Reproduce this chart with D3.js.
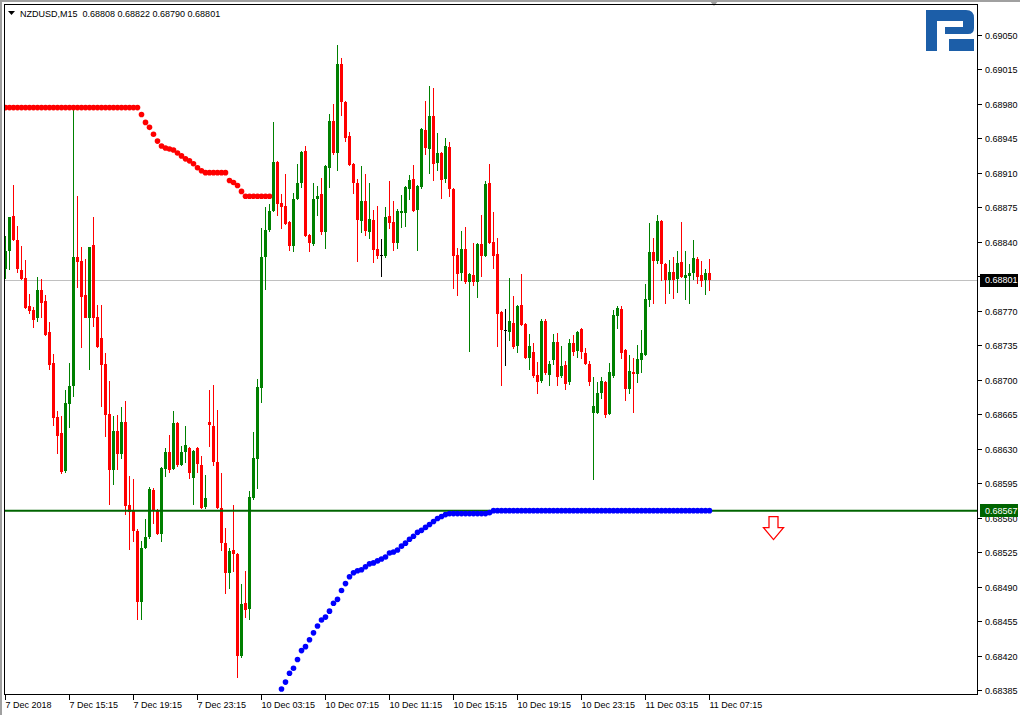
<!DOCTYPE html>
<html>
<head>
<meta charset="utf-8">
<script src="https://cdn.jsdelivr.net/npm/d3@7/dist/d3.min.js"></script>
<style>
  html, body { margin: 0; padding: 0; background: #ffffff; }
  svg { display: block; }
  text { font-family: "Liberation Sans", Arial, sans-serif; }
</style>
</head>
<body>
<svg id="chart" width="1020" height="715"></svg>
<script>
// ---------------- DATA (NZDUSD, M15) ----------------
const symbolTitle = "NZDUSD,M15";
const lastQuote = ["0.68808", "0.68822", "0.68790", "0.68801"];

const open = [
0.68812,0.68830,0.68866,0.68842,0.68811,0.68803,0.68775,0.68771,0.68762,0.68791,
0.68780,0.68748,0.68717,0.68662,0.68646,0.68607,0.68675,0.68693,0.68824,0.68820,
0.68786,0.68763,0.68837,0.68764,0.68742,0.68716,0.68665,0.68608,0.68648,0.68625,
0.68657,0.68573,0.68567,0.68546,0.68474,0.68529,0.68540,0.68588,0.68568,0.68543,
0.68609,0.68627,0.68609,0.68656,0.68613,0.68627,0.68631,0.68600,0.68631,0.68613,
0.68571,0.68657,0.68653,0.68616,0.68570,0.68534,0.68504,0.68527,0.68523,0.68420,
0.68473,0.68467,0.68580,0.68619,0.68691,0.68824,0.68852,0.68871,0.68921,0.68879,
0.68876,0.68860,0.68836,0.68883,0.68900,0.68932,0.68847,0.68838,0.68883,0.68888,
0.68850,0.68915,0.68962,0.68930,0.69020,0.68982,0.68947,0.68919,0.68900,0.68861,
0.68881,0.68850,0.68862,0.68833,0.68826,0.68825,0.68866,0.68860,0.68839,0.68869,
0.68869,0.68893,0.68904,0.68872,0.68895,0.68953,0.68934,0.68967,0.68920,0.68930,
0.68904,0.68936,0.68893,0.68826,0.68808,0.68833,0.68799,0.68806,0.68799,0.68838,
0.68825,0.68899,0.68840,0.68827,0.68769,0.68750,0.68748,0.68757,0.68734,0.68776,
0.68756,0.68722,0.68728,0.68705,0.68699,0.68759,0.68705,0.68720,0.68738,0.68704,
0.68715,0.68698,0.68737,0.68729,0.68751,0.68727,0.68716,0.68666,0.68666,0.68686,
0.68698,0.68665,0.68704,0.68765,0.68772,0.68730,0.68690,0.68708,0.68706,0.68720,
0.68725,0.68781,0.68829,0.68820,0.68861,0.68817,0.68801,0.68809,0.68802,0.68819,
0.68803,0.68805,0.68808,0.68822,0.68806,0.68801,0.68808];

const high = [
0.68846,0.68865,0.68897,0.68856,0.68836,0.68821,0.68787,0.68774,0.68804,0.68802,
0.68786,0.68758,0.68726,0.68668,0.68663,0.68689,0.68717,0.68978,0.68886,0.68835,
0.68822,0.68835,0.68865,0.68776,0.68776,0.68727,0.68699,0.68663,0.68664,0.68672,
0.68678,0.68602,0.68599,0.68548,0.68536,0.68559,0.68591,0.68590,0.68569,0.68611,
0.68631,0.68644,0.68668,0.68657,0.68633,0.68653,0.68632,0.68629,0.68632,0.68622,
0.68603,0.68689,0.68695,0.68669,0.68605,0.68549,0.68529,0.68573,0.68524,0.68493,
0.68506,0.68587,0.68647,0.68701,0.68854,0.68875,0.68878,0.68961,0.68922,0.68888,
0.68909,0.68861,0.68889,0.68919,0.68932,0.68937,0.68848,0.68899,0.68896,0.68905,
0.68918,0.68970,0.68980,0.69040,0.69026,0.68983,0.68951,0.68920,0.68904,0.68917,
0.68909,0.68900,0.68872,0.68876,0.68843,0.68875,0.68902,0.68881,0.68873,0.68887,
0.68896,0.68908,0.68918,0.68897,0.68955,0.68983,0.68998,0.68996,0.68950,0.68931,
0.68945,0.68941,0.68894,0.68834,0.68851,0.68855,0.68808,0.68839,0.68839,0.68867,
0.68902,0.68919,0.68870,0.68844,0.68770,0.68772,0.68803,0.68785,0.68776,0.68807,
0.68757,0.68746,0.68737,0.68718,0.68761,0.68761,0.68719,0.68746,0.68747,0.68734,
0.68719,0.68741,0.68745,0.68749,0.68752,0.68732,0.68719,0.68703,0.68698,0.68703,
0.68699,0.68717,0.68771,0.68775,0.68775,0.68731,0.68725,0.68722,0.68735,0.68750,
0.68797,0.68859,0.68844,0.68867,0.68862,0.68818,0.68821,0.68824,0.68830,0.68860,
0.68831,0.68817,0.68842,0.68824,0.68820,0.68812,0.68822];

const low = [
0.68802,0.68811,0.68841,0.68808,0.68801,0.68772,0.68767,0.68752,0.68758,0.68763,
0.68744,0.68710,0.68653,0.68624,0.68604,0.68605,0.68651,0.68682,0.68793,0.68732,
0.68762,0.68710,0.68753,0.68732,0.68672,0.68642,0.68573,0.68593,0.68608,0.68619,
0.68563,0.68527,0.68535,0.68456,0.68456,0.68528,0.68538,0.68553,0.68542,0.68535,
0.68601,0.68605,0.68608,0.68611,0.68612,0.68615,0.68599,0.68573,0.68605,0.68569,
0.68569,0.68632,0.68612,0.68569,0.68526,0.68482,0.68488,0.68505,0.68397,0.68417,
0.68458,0.68456,0.68578,0.68589,0.68676,0.68791,0.68850,0.68870,0.68866,0.68853,
0.68857,0.68831,0.68829,0.68882,0.68894,0.68845,0.68829,0.68836,0.68866,0.68847,
0.68833,0.68894,0.68928,0.68912,0.68967,0.68941,0.68917,0.68888,0.68819,0.68849,
0.68846,0.68843,0.68818,0.68822,0.68804,0.68823,0.68853,0.68831,0.68833,0.68854,
0.68855,0.68882,0.68870,0.68831,0.68893,0.68928,0.68909,0.68902,0.68912,0.68883,
0.68900,0.68885,0.68792,0.68785,0.68800,0.68797,0.68728,0.68795,0.68783,0.68804,
0.68824,0.68838,0.68812,0.68733,0.68694,0.68714,0.68739,0.68731,0.68727,0.68754,
0.68721,0.68710,0.68702,0.68685,0.68697,0.68705,0.68694,0.68715,0.68694,0.68702,
0.68689,0.68695,0.68724,0.68722,0.68721,0.68715,0.68694,0.68598,0.68665,0.68680,
0.68661,0.68664,0.68702,0.68751,0.68721,0.68678,0.68685,0.68666,0.68697,0.68707,
0.68724,0.68774,0.68777,0.68817,0.68800,0.68777,0.68787,0.68782,0.68788,0.68803,
0.68781,0.68777,0.68801,0.68797,0.68794,0.68786,0.68790];

const close = [
0.68831,0.68865,0.68842,0.68812,0.68802,0.68773,0.68770,0.68760,0.68791,0.68778,
0.68745,0.68715,0.68661,0.68643,0.68606,0.68676,0.68694,0.68824,0.68819,0.68784,
0.68763,0.68835,0.68762,0.68733,0.68715,0.68664,0.68608,0.68648,0.68625,0.68657,
0.68572,0.68566,0.68546,0.68474,0.68529,0.68540,0.68589,0.68568,0.68543,0.68610,
0.68627,0.68608,0.68656,0.68613,0.68627,0.68634,0.68605,0.68628,0.68614,0.68570,
0.68580,0.68654,0.68616,0.68570,0.68534,0.68504,0.68526,0.68523,0.68420,0.68472,
0.68466,0.68581,0.68620,0.68692,0.68824,0.68852,0.68871,0.68921,0.68878,0.68875,
0.68858,0.68836,0.68883,0.68900,0.68931,0.68846,0.68839,0.68883,0.68886,0.68850,
0.68917,0.68962,0.68930,0.69020,0.68982,0.68945,0.68918,0.68900,0.68862,0.68881,
0.68851,0.68863,0.68832,0.68825,0.68826,0.68865,0.68859,0.68839,0.68871,0.68871,
0.68895,0.68903,0.68871,0.68896,0.68954,0.68935,0.68967,0.68919,0.68930,0.68903,
0.68937,0.68893,0.68825,0.68807,0.68833,0.68799,0.68807,0.68799,0.68838,0.68825,
0.68898,0.68839,0.68825,0.68767,0.68750,0.68750,0.68759,0.68733,0.68775,0.68755,
0.68722,0.68734,0.68704,0.68698,0.68759,0.68707,0.68716,0.68738,0.68703,0.68714,
0.68696,0.68737,0.68728,0.68748,0.68728,0.68716,0.68698,0.68673,0.68686,0.68699,
0.68664,0.68708,0.68766,0.68773,0.68727,0.68690,0.68709,0.68706,0.68721,0.68727,
0.68782,0.68829,0.68820,0.68861,0.68817,0.68801,0.68809,0.68801,0.68818,0.68804,
0.68806,0.68808,0.68823,0.68804,0.68800,0.68808,0.68801];

// trailing-stop dots (upper: red, from bar 0; lower: blue, from bar 69)
const stopUpperStart = 0;
const stopUpper = [
0.68976,0.68976,0.68976,0.68976,0.68976,0.68976,0.68976,0.68976,0.68976,0.68976,
0.68976,0.68976,0.68976,0.68976,0.68976,0.68976,0.68976,0.68976,0.68976,0.68976,
0.68976,0.68976,0.68976,0.68976,0.68976,0.68976,0.68976,0.68976,0.68976,0.68976,
0.68976,0.68976,0.68976,0.68976,0.68969,0.68961,0.68956,0.68949,0.68942,0.68937,
0.68935,0.68934,0.68933,0.68930,0.68927,0.68924,0.68922,0.68919,0.68915,0.68912,
0.68910,0.68910,0.68910,0.68910,0.68910,0.68910,0.68902,0.68900,0.68897,0.68891,
0.68886,0.68886,0.68886,0.68886,0.68886,0.68886,0.68886];
const stopLowerStart = 69;
const stopLower = [
0.68386,0.68393,0.68402,0.68407,0.68416,0.68425,0.68429,0.68436,0.68443,0.68450,
0.68456,0.68459,0.68465,0.68473,0.68477,0.68486,0.68493,0.68500,0.68504,0.68506,
0.68507,0.68510,0.68513,0.68514,0.68516,0.68518,0.68520,0.68524,0.68525,0.68527,
0.68531,0.68534,0.68538,0.68541,0.68545,0.68547,0.68550,0.68553,0.68556,0.68559,
0.68561,0.68563,0.68564,0.68564,0.68564,0.68564,0.68564,0.68564,0.68564,0.68564,
0.68564,0.68564,0.68565,0.68567,0.68567,0.68567,0.68567,0.68567,0.68567,0.68567,
0.68567,0.68567,0.68567,0.68567,0.68567,0.68567,0.68567,0.68567,0.68567,0.68567,
0.68567,0.68567,0.68567,0.68567,0.68567,0.68567,0.68567,0.68567,0.68567,0.68567,
0.68567,0.68567,0.68567,0.68567,0.68567,0.68567,0.68567,0.68567,0.68567,0.68567,
0.68567,0.68567,0.68567,0.68567,0.68567,0.68567,0.68567,0.68567,0.68567,0.68567,
0.68567,0.68567,0.68567,0.68567,0.68567,0.68567,0.68567,0.68567];

const levelPrice = 0.68567;      // horizontal green level
const currentPrice = 0.68801;    // bid line
const signalBar = 192;           // down arrow (sell signal)
const signalPrice = 0.68561;

const priceTicks = [0.69050,0.69015,0.68980,0.68945,0.68910,0.68875,0.68840,0.68805,0.68770,
  0.68735,0.68700,0.68665,0.68630,0.68595,0.68560,0.68525,0.68490,0.68455,0.68420,0.68385];
const timeTickBars = [0,16,32,48,64,80,96,112,128,144,160,176];
const timeTickLabels = ["7 Dec 2018","7 Dec 15:15","7 Dec 19:15","7 Dec 23:15","10 Dec 03:15",
  "10 Dec 07:15","10 Dec 11:15","10 Dec 15:15","10 Dec 19:15","10 Dec 23:15","11 Dec 03:15","11 Dec 07:15"];

// ---------------- DRAW ----------------
const W = 1020, H = 715;
const plot = {left: 4.5, top: 4.5, right: 977.5, bottom: 694.5};
const svg = d3.select("#chart");

const x = d3.scaleLinear().domain([0, 176]).range([5.5, 709.5]);
const y = d3.scaleLinear().domain([0.68385, 0.69050]).range([690, 34.7]);

const fmt = d3.format(".5f");

// window chrome
svg.append("rect").attr("x",0).attr("y",0).attr("width",W).attr("height",H).attr("fill","#ffffff");
svg.append("rect").attr("x",0).attr("y",0).attr("width",W).attr("height",2).attr("fill","#a0a0a0");
svg.append("rect").attr("x",0).attr("y",0).attr("width",2).attr("height",H).attr("fill","#a0a0a0");
svg.append("path").attr("d","M709,0 L719,0 L714,6 Z").attr("fill","#a0a0a0");

svg.append("defs").append("clipPath").attr("id","plotclip")
  .append("rect").attr("x",plot.left).attr("y",plot.top)
  .attr("width",plot.right-plot.left).attr("height",plot.bottom-plot.top);

const g = svg.append("g").attr("clip-path","url(#plotclip)");

// current price line
g.append("line").attr("x1",plot.left).attr("x2",plot.right)
  .attr("y1",Math.round(y(currentPrice))+0.5).attr("y2",Math.round(y(currentPrice))+0.5)
  .attr("stroke","#c0c0c0").attr("stroke-width",1);

// logo (RoboForex-like mark)
const logo = svg.append("g").attr("fill","#1c5ea8");
logo.append("path").attr("d",
  "M926,10 H966 Q974,10 974,18 V28 Q974,34 968,34 H945 V27 H963 V21 H937 V51 H926 Z");
logo.append("rect").attr("x",949).attr("y",39).attr("width",25).attr("height",12);

// candles
const bars = d3.range(open.length).map(i => ({i, o: open[i], h: high[i], l: low[i], c: close[i]}));
const colorOf = d => d.c > d.o ? "#008000" : (d.c < d.o ? "#ff0000" : "#000000");
const cg = g.append("g").attr("shape-rendering","crispEdges");
cg.selectAll("rect.wick").data(bars).join("rect").attr("class","wick")
  .attr("x", d => x(d.i) - 0.5).attr("width", 1)
  .attr("y", d => y(d.h)).attr("height", d => Math.max(1, y(d.l) - y(d.h)))
  .attr("fill", colorOf);
cg.selectAll("rect.body").data(bars).join("rect").attr("class","body")
  .attr("x", d => x(d.i) - 1.5).attr("width", 3)
  .attr("y", d => y(Math.max(d.o, d.c)))
  .attr("height", d => Math.max(1, Math.abs(y(d.o) - y(d.c))))
  .attr("fill", colorOf);

// green level line
g.append("line").attr("x1",plot.left).attr("x2",plot.right)
  .attr("y1",y(levelPrice)).attr("y2",y(levelPrice))
  .attr("stroke","#006400").attr("stroke-width",2);

// trailing stop dots
const upperPts = stopUpper.map((v,k) => ({i: stopUpperStart + k, v}));
const lowerPts = stopLower.map((v,k) => ({i: stopLowerStart + k, v}));
g.selectAll("circle.up").data(upperPts).join("circle").attr("class","up")
  .attr("cx", d => x(d.i)).attr("cy", d => y(d.v)).attr("r", 2.8).attr("fill","#ff0000");
g.selectAll("circle.dn").data(lowerPts).join("circle").attr("class","dn")
  .attr("cx", d => x(d.i)).attr("cy", d => y(d.v)).attr("r", 2.8).attr("fill","#0000ff");

// signal arrow (hollow, red)
const ax = x(signalBar), ay = y(signalPrice);
g.append("path")
  .attr("d", `M${ax-4.5},${ay} H${ax+4.5} V${ay+11} H${ax+10} L${ax},${ay+23} L${ax-10},${ay+11} H${ax-4.5} Z`)
  .attr("fill","#ffffff").attr("stroke","#ff0000").attr("stroke-width",1.3);

// frame
svg.append("rect").attr("x",plot.left).attr("y",plot.top)
  .attr("width",plot.right-plot.left).attr("height",plot.bottom-plot.top)
  .attr("fill","none").attr("stroke","#000000").attr("stroke-width",1)
  .attr("shape-rendering","crispEdges");

// price axis
const pa = svg.append("g");
priceTicks.forEach(v => {
  const yy = Math.round(y(v)) + 0.5;
  pa.append("line").attr("x1",plot.right).attr("x2",plot.right+4).attr("y1",yy).attr("y2",yy)
    .attr("stroke","#000").attr("shape-rendering","crispEdges");
  pa.append("text").attr("x",985).attr("y",yy).attr("dy","0.35em")
    .attr("font-size","9px").attr("fill","#000").text(fmt(v));
});

// time axis
const ta = svg.append("g");
timeTickBars.forEach((b,k) => {
  const xx = Math.round(x(b) - 0.5) + 0.5;
  ta.append("line").attr("x1",xx).attr("x2",xx).attr("y1",plot.bottom).attr("y2",plot.bottom+5)
    .attr("stroke","#000").attr("shape-rendering","crispEdges");
  ta.append("text").attr("x",xx).attr("y",708).attr("font-size","9px").attr("fill","#000")
    .text(timeTickLabels[k]);
});

// price labels for lines
function priceBox(v, fill) {
  const yy = y(v);
  svg.append("rect").attr("x",980).attr("y",yy-6.5).attr("width",38).attr("height",13)
    .attr("fill",fill).attr("shape-rendering","crispEdges");
  svg.append("text").attr("x",985).attr("y",yy).attr("dy","0.35em")
    .attr("font-size","9px").attr("fill","#ffffff").text(fmt(v));
}
priceBox(currentPrice, "#000000");
priceBox(levelPrice, "#006400");

// header
svg.append("path").attr("d","M8,11 L15,11 L11.5,15 Z").attr("fill","#000");
svg.append("text").attr("x",20).attr("y",16.5).attr("font-size","9px").attr("fill","#000")
  .attr("xml:space","preserve").style("white-space","pre")
  .text(symbolTitle + "  " + lastQuote.join(" "));
</script>
</body>
</html>
